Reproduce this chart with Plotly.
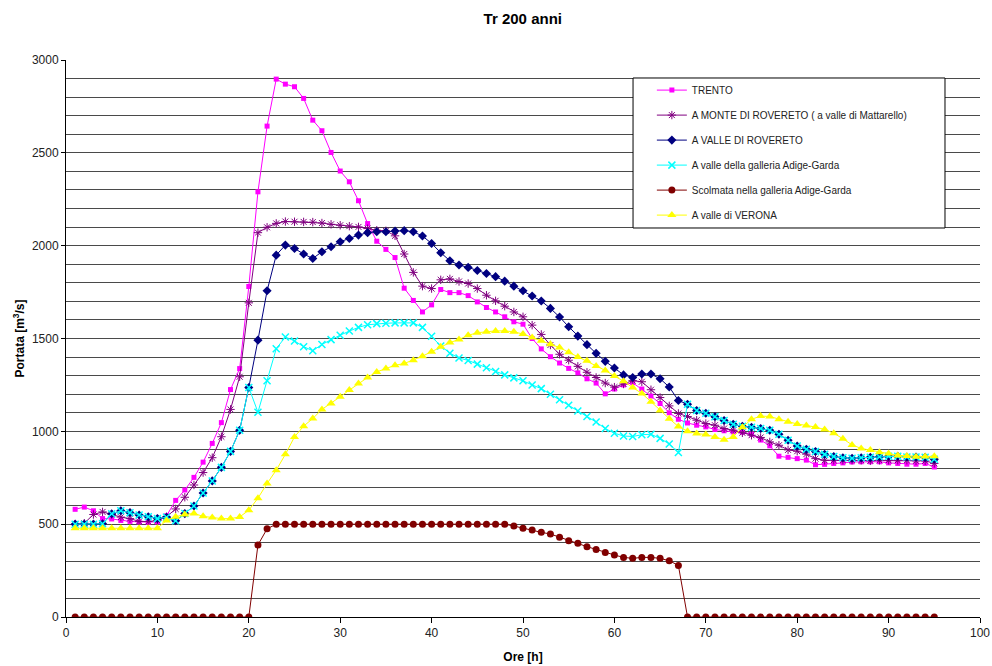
import plotly.graph_objects as go

hours = list(range(1, 96))

trento = [580, 592, 572, 530, 528, 520, 515, 512, 510, 512, 545, 628, 684, 752, 834, 935, 1047, 1225, 1338, 1780,
          2290, 2644, 2897, 2870, 2856, 2793, 2676, 2619, 2502, 2402, 2344, 2242, 2119, 2024, 1980, 1936, 1771, 1705, 1643, 1681,
          1764, 1747, 1747, 1731, 1697, 1667, 1643, 1617, 1590, 1577, 1500, 1444, 1402, 1368, 1339, 1315, 1283, 1260, 1202, 1228,
          1250, 1262, 1228, 1190, 1150, 1100, 1065, 1045, 1033, 1024, 1010, 1003, 997, 995, 985, 953, 922, 866, 860, 853,
          845, 820, 822, 827, 830, 835, 836, 836, 836, 830, 827, 823, 823, 827, 808]

monte_rovereto = [500, 505, 552, 566, 552, 538, 530, 515, 514, 520, 540, 582, 645, 711, 778, 858, 971, 1118, 1294, 1692,
                  2070, 2099, 2120, 2130, 2129, 2128, 2127, 2122, 2115, 2110, 2105, 2101, 2092, 2083, 2080, 2053, 1955, 1856, 1782, 1769,
                  1816, 1821, 1807, 1796, 1769, 1733, 1703, 1674, 1643, 1617, 1572, 1522, 1465, 1415, 1383, 1350, 1318, 1290, 1260, 1238,
                  1255, 1273, 1267, 1224, 1182, 1137, 1096, 1080, 1060, 1042, 1033, 1015, 1006, 992, 979, 967, 943, 925, 900, 893,
                  877, 853, 844, 844, 844, 844, 844, 841, 844, 844, 844, 844, 841, 841, 827]

valle_rovereto = [500, 500, 500, 502, 556, 572, 562, 549, 540, 530, 537, 518, 557, 598, 668, 733, 806, 892, 1006, 1236,
                  1491, 1757, 1949, 2003, 1985, 1955, 1931, 1967, 1994, 2021, 2039, 2057, 2070, 2075, 2075, 2079, 2081, 2075, 2052, 2012,
                  1962, 1919, 1896, 1883, 1866, 1850, 1833, 1809, 1782, 1757, 1729, 1702, 1662, 1616, 1563, 1513, 1467, 1420, 1377, 1341,
                  1304, 1290, 1309, 1309, 1283, 1239, 1166, 1146, 1112, 1097, 1079, 1058, 1038, 1027, 1022, 1015, 1006, 984, 952, 921,
                  903, 891, 876, 864, 858, 855, 858, 860, 863, 866, 866, 862, 862, 860, 850]

valle_galleria = [500, 500, 500, 502, 556, 572, 562, 549, 540, 530, 537, 518, 557, 598, 668, 733, 806, 892, 1006, 1236,
                  1103, 1272, 1445, 1508, 1487, 1456, 1434, 1468, 1494, 1518, 1540, 1560, 1574, 1580, 1582, 1584, 1584, 1584, 1560, 1512,
                  1460, 1421, 1395, 1382, 1362, 1342, 1322, 1304, 1288, 1272, 1250, 1230, 1200, 1170, 1140, 1110, 1080, 1050, 1015, 990,
                  975, 972, 982, 984, 962, 932, 886, 1146, 1112, 1097, 1079, 1058, 1038, 1027, 1022, 1015, 1006, 984, 952, 921,
                  903, 891, 876, 864, 858, 855, 858, 860, 863, 866, 866, 862, 862, 860, 850]

scolmata = [0, 0, 0, 0, 0, 0, 0, 0, 0, 0, 0, 0, 0, 0, 0, 0, 0, 0, 0, 0,
            388, 475, 500, 500, 500, 500, 500, 500, 500, 500, 500, 500, 500, 500, 500, 500, 500, 500, 500, 500,
            500, 500, 500, 500, 500, 500, 500, 500, 490, 478, 469, 456, 447, 429, 411, 397, 379, 364, 348, 334,
            321, 316, 321, 321, 316, 303, 278, 0, 0, 0, 0, 0, 0, 0, 0, 0, 0, 0, 0, 0,
            0, 0, 0, 0, 0, 0, 0, 0, 0, 0, 0, 0, 0, 0, 0]

verona = [478, 478, 478, 478, 478, 478, 478, 478, 478, 478, 520, 540, 552, 558, 542, 536, 530, 530, 539, 575,
          640, 719, 791, 876, 970, 1028, 1069, 1118, 1150, 1186, 1222, 1258, 1290, 1320, 1338, 1356, 1365, 1383, 1405, 1429,
          1455, 1478, 1495, 1517, 1531, 1536, 1541, 1541, 1536, 1524, 1506, 1488, 1469, 1451, 1426, 1401, 1380, 1352, 1328, 1298,
          1270, 1236, 1204, 1160, 1112, 1068, 1026, 1001, 988, 983, 970, 955, 970, 1022, 1065, 1082, 1080, 1065, 1052, 1040,
          1032, 1023, 1010, 990, 960, 927, 908, 900, 888, 880, 870, 867, 863, 864, 866]

series = [
    ("TRENTO", trento, "#FF00FF", "square", 5, 0),
    ("A MONTE DI ROVERETO ( a valle di Mattarello)", monte_rovereto, "#800080", "asterisk-open", 7, 1),
    ("A VALLE DI ROVERETO", valle_rovereto, "#000080", "diamond", 7, 0),
    ("A valle della galleria Adige-Garda", valle_galleria, "#00FFFF", "x-thin-open", 7, 1.5),
    ("Scolmata nella galleria Adige-Garda", scolmata, "#800000", "circle", 7, 0),
    ("A valle di VERONA", verona, "#FFFF00", "triangle-up", 8, 0),
]

FONT = "Liberation Sans, Arial, sans-serif"

fig = go.Figure()
for i, (name, vals, col, sym, size, lw) in enumerate(series):
    mk = dict(symbol=sym, size=size, color=col)
    if lw:
        mk["line"] = dict(color=col, width=lw)
    else:
        mk["line"] = dict(width=0)
    fig.add_trace(go.Scatter(
        x=hours, y=vals, name=name, mode="lines+markers",
        line=dict(color=col, width=1), marker=mk, legendgroup=f"g{i}",
    ))

fig.update_layout(
    width=992, height=666,
    margin=dict(l=66, r=12, t=60, b=49, autoexpand=False),
    paper_bgcolor="white", plot_bgcolor="white",
    font=dict(family=FONT, size=12, color="#000000"),
    title=dict(text="<b>Tr 200 anni</b>", x=0.527, xanchor="center", y=0.972, yanchor="middle",
               font=dict(family=FONT, size=15, color="#000000")),
    showlegend=True,
    legend=dict(x=0.641, y=0.972, xanchor="left", yanchor="top",
                bgcolor="rgba(0,0,0,0)", borderwidth=0, tracegroupgap=6,
                font=dict(family=FONT, size=10, color="#222222")),
    shapes=[dict(type="rect", xref="paper", yref="paper",
                 x0=0.6204, x1=0.9617, y0=0.6984, y1=0.9677,
                 fillcolor="white", line=dict(color="#000000", width=1), layer="above")],
)

fig.update_xaxes(range=[0, 100], dtick=10, tick0=0, showgrid=False, zeroline=False, automargin=False,
                 showline=True, linecolor="#000000", linewidth=1,
                 ticks="outside", ticklen=5, tickcolor="#000000",
                 tickfont=dict(family=FONT, size=12, color="#222222"),
                 title=dict(text="<b>Ore [h]</b>", standoff=13, font=dict(family=FONT, size=12)))
fig.update_yaxes(range=[0, 3000], dtick=500, tick0=0, showgrid=True, gridcolor="#4a4a4a", gridwidth=1,
                 zeroline=False, showline=True, linecolor="#000000", linewidth=1, automargin=False,
                 ticks="outside", ticklen=4, tickcolor="#000000",
                 minor=dict(dtick=100, showgrid=True, gridcolor="#4a4a4a", gridwidth=1, ticks=""),
                 tickfont=dict(family=FONT, size=12, color="#222222"),
                 title=dict(text="<b>Portata [m<sup>3</sup>/s]</b>", standoff=4, font=dict(family=FONT, size=12)))

fig.write_html("out.html")
